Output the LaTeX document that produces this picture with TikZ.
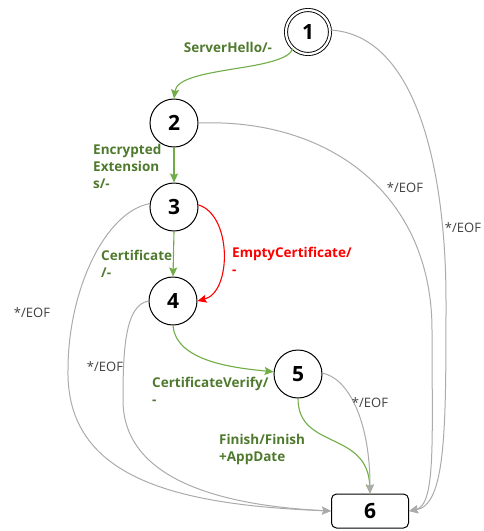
\documentclass[tikz,border=0pt]{standalone}
\usepackage{fontspec}
\setmainfont{Open Sans}
\usetikzlibrary{arrows.meta}
\definecolor{edgegreen}{HTML}{70AD47}
\definecolor{labgreen}{HTML}{4F7A2E}
\definecolor{edgegray}{HTML}{ABABAB}
\definecolor{labgray}{HTML}{404040}
\definecolor{edgered}{HTML}{FF0000}
\tikzset{
  state/.style={circle, draw=black, line width=1pt, minimum size=48pt, inner sep=0pt, font=\fontsize{21}{24}\selectfont\bfseries},
  startstate/.style={state, double, double distance=2.2pt, line width=0.9pt, minimum size=44pt},
  endstate/.style={rectangle, rounded corners=5pt, draw=black, line width=1pt, minimum width=77pt, minimum height=34pt, inner sep=0pt, font=\fontsize{21}{24}\selectfont\bfseries},
  tip/.style={-{Stealth[length=9pt,width=8pt,inset=1.5pt]}},
  gedge/.style={tip, draw=edgegreen, line width=1.1pt, color=edgegreen},
  redge/.style={tip, draw=edgered, line width=1.1pt, color=edgered},
  xedge/.style={tip, draw=edgegray, line width=1pt, color=edgegray},
  glab/.style={text=labgreen, font=\fontsize{13.5}{17}\selectfont\bfseries, align=left, inner sep=0pt},
  rlab/.style={text=edgered, font=\fontsize{13.5}{17}\selectfont\bfseries, align=left, inner sep=0pt},
  xlab/.style={text=labgray, font=\fontsize{13}{16}\selectfont, inner sep=0pt},
}
\begin{document}
\begin{tikzpicture}[x=1pt, y=-1pt]
\useasboundingbox (0,0) rectangle (484,531);
\node[startstate] (n1) at (308,32) {1};
\node[state] (n2) at (174,123) {2};
\node[state] (n3) at (174,207) {3};
\node[state] (n4) at (173,301) {4};
\node[state] (n5) at (298,374) {5};
\node[endstate] (n6) at (370,511) {6};

% green / red transitions
\draw[gedge] (n1.228) .. controls (284,72) and (178,66) .. (n2.north);
\draw[gedge] (n2.south) -- (n3.north);
\draw[gedge] (n3.south) -- (n4.north);
\draw[redge] (n3.5) .. controls (232,215) and (232,292) .. (n4.0);
\draw[gedge] (n4.south) .. controls (176,362) and (236,368) .. (n5.175);
\draw[gedge] (n5.south) .. controls (298,450) and (368,430) .. (n6.north);

% gray */EOF transitions
\draw[xedge] (n5.2) .. controls (348,378) and (370,420) .. (n6.north);
\draw[xedge] (n1.5) .. controls (420,35) and (446,180) .. (446,300) .. controls (446,430) and (446,505) .. (n6.east);
\draw[xedge] (n2.east) .. controls (330,118) and (432,195) .. (432,330) .. controls (432,440) and (436,505) .. (n6.east);
\draw[xedge] (n3.172) .. controls (105,212) and (68,290) .. (68,370) .. controls (66,480) and (180,505) .. (n6.west);
\draw[xedge] (n4.180) .. controls (125,305) and (123,350) .. (123,400) .. controls (123,475) and (210,505) .. (n6.west);

% labels
\node[glab] (l12) at (228,47) {ServerHello/-};
\node[glab, anchor=west] (l23) at (93,166) {Encrypted\\Extension\\s/-};
\node[glab, anchor=west] (l34) at (101,264) {Certificate\\/-};
\node[rlab, anchor=west] (l34r) at (232,261) {EmptyCertificate/\\-};
\node[glab, anchor=west] (l45) at (152,391) {CertificateVerify/\\-};
\node[glab, anchor=west] (l56) at (219,449) {Finish/Finish\\+AppDate};
\node[xlab] (e1) at (463,228) {*/EOF};
\node[xlab] (e2) at (405,188) {*/EOF};
\node[xlab] (e3) at (32,313) {*/EOF};
\node[xlab] (e4) at (105,367) {*/EOF};
\node[xlab] (e5) at (370,403) {*/EOF};
\end{tikzpicture}
\end{document}
